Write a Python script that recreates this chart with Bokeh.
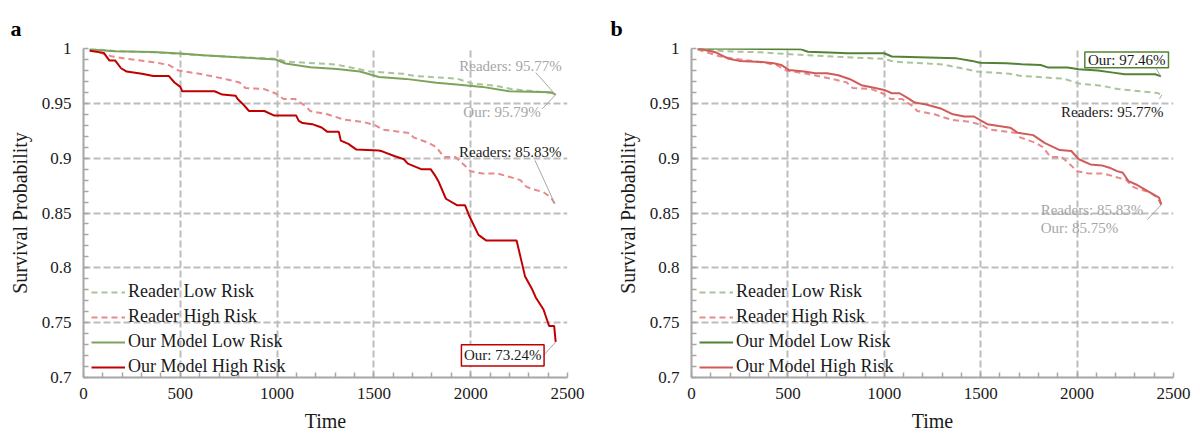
from bokeh.plotting import figure
from bokeh.models import Range1d, FixedTicker, Legend, LegendItem, Label, Title
from bokeh.layouts import row
from bokeh.embed import file_html
from bokeh.resources import INLINE

FONT = "Liberation Serif"

# ---------------- data ----------------
x_ticks = [0, 500, 1000, 1500, 2000, 2500]
y_ticks = [0.7, 0.75, 0.8, 0.85, 0.9, 0.95, 1.0]
y_tick_labels = ["0.7", "0.75", "0.8", "0.85", "0.9", "0.95", "1"]
series_names = ["Reader Low Risk", "Reader High Risk", "Our Model Low Risk", "Our Model High Risk"]

t_reader_low = [32, 170, 360, 540, 760, 1000, 1050, 1300, 1400, 1480, 1650, 1710, 1930, 2010, 2130, 2210, 2330, 2415, 2439]
s_reader_low = [1.0, 0.9975, 0.9965, 0.9945, 0.9925, 0.9905, 0.988, 0.9855, 0.982, 0.979, 0.977, 0.975, 0.9725, 0.968, 0.966, 0.963, 0.961, 0.9595, 0.9577]

t_reader_high = [32, 144, 223, 361, 440, 490, 598, 737, 806, 836, 934, 993, 1033, 1092, 1151, 1171, 1260, 1349,
                 1447, 1507, 1546, 1684, 1704, 1783, 1823, 1862, 1921, 1971, 2000, 2060, 2139, 2198, 2257, 2287,
                 2316, 2376, 2415, 2435]
s_reader_high = [0.999, 0.993, 0.9906, 0.9875, 0.985, 0.980, 0.977, 0.972, 0.969, 0.964, 0.963, 0.959, 0.954, 0.954,
                 0.947, 0.943, 0.940, 0.935, 0.933, 0.930, 0.926, 0.923, 0.919, 0.914, 0.910, 0.901, 0.901, 0.893,
                 0.888, 0.886, 0.886, 0.883, 0.880, 0.874, 0.872, 0.869, 0.864, 0.8583]

# panel a: our model
t_ours_low_a = [32, 164, 361, 500, 618, 796, 993, 1043, 1171, 1309, 1428, 1526, 1665, 1823, 1941, 2060, 2198, 2415, 2439]
s_ours_low_a = [0.999, 0.9976, 0.9967, 0.9954, 0.9939, 0.992, 0.990, 0.9863, 0.983, 0.9814, 0.979, 0.974, 0.9723,
                0.9687, 0.967, 0.965, 0.961, 0.960, 0.9579]

t_ours_high_a = [32, 105, 134, 164, 194, 223, 302, 361, 440, 470, 500, 510, 677, 717, 786, 796, 825, 855, 934, 983,
                 1098, 1112, 1132, 1181, 1230, 1260, 1319, 1329, 1368, 1408, 1526, 1546, 1605, 1655, 1675, 1744,
                 1793, 1813, 1833, 1872, 1931, 1971, 1991, 2040, 2079, 2237, 2257, 2281, 2316, 2336, 2376, 2405,
                 2431, 2439]
s_ours_high_a = [0.998, 0.996, 0.989, 0.989, 0.982, 0.979, 0.977, 0.975, 0.975, 0.969, 0.965, 0.961, 0.961, 0.958,
                 0.957, 0.954, 0.949, 0.943, 0.943, 0.939, 0.939, 0.934, 0.932, 0.931, 0.928, 0.924, 0.924, 0.916,
                 0.913, 0.908, 0.907, 0.906, 0.902, 0.899, 0.895, 0.890, 0.890, 0.885, 0.879, 0.863, 0.857, 0.857,
                 0.848, 0.830, 0.825, 0.825, 0.810, 0.792, 0.781, 0.773, 0.762, 0.747, 0.747, 0.7324]

# panel b: our model
t_ours_low_b = [32, 564, 604, 782, 802, 1000, 1039, 1178, 1376, 1455, 1495, 1633, 1712, 1811, 1851, 1950, 2009, 2108,
                2187, 2247, 2405, 2435]
s_ours_low_b = [1.0, 0.9994, 0.997, 0.996, 0.9957, 0.9957, 0.9927, 0.992, 0.991, 0.9887, 0.987, 0.9866, 0.9857, 0.985,
                0.9826, 0.9826, 0.981, 0.980, 0.978, 0.9765, 0.9765, 0.9746]

t_ours_high_b = [32, 129, 188, 247, 366, 426, 465, 505, 584, 643, 703, 762, 822, 881, 940, 1000, 1039, 1079, 1118,
                 1158, 1217, 1297, 1356, 1415, 1465, 1534, 1594, 1653, 1692, 1772, 1831, 1910, 1970, 2009, 2069,
                 2128, 2168, 2207, 2237, 2267, 2306, 2366, 2425, 2437]
s_ours_high_b = [1.0, 0.9963, 0.9909, 0.9887, 0.9878, 0.9866, 0.985, 0.9805, 0.979, 0.9775, 0.9775, 0.9756, 0.972,
                 0.9665, 0.9644, 0.9622, 0.9592, 0.9592, 0.9552, 0.9507, 0.949, 0.945, 0.940, 0.938, 0.938, 0.931,
                 0.9293, 0.9278, 0.9232, 0.921, 0.914, 0.9074, 0.9065, 0.899, 0.8943, 0.8934, 0.8913, 0.8882,
                 0.8867, 0.879, 0.876, 0.870, 0.864, 0.8575]

# annotation texts
ann_a = ["Readers: 95.77%", "Our: 95.79%", "Readers: 85.83%", "Our: 73.24%"]
ann_b = ["Our: 97.46%", "Readers: 95.77%", "Readers: 85.83%", "Our: 85.75%"]

# ---------------- styling ----------------
GRID = "#bdbdbd"
AXIS = "#a6a6a6"
C_READER_LOW = "#a9c49a"
C_READER_HIGH = "#e8898a"


def make_panel(letter, border_left, border_right, ours_low, ours_high, c_low, c_high):
    title = Title(text=letter, align="left", offset=-(border_left - 10), text_font=FONT,
                  text_font_size="22px", text_font_style="bold", text_color="black",
                  standoff=16)
    p = figure(width=600, height=434, output_backend="svg", toolbar_location=None,
               x_range=Range1d(0, 2500), y_range=Range1d(0.7, 1.0),
               min_border_left=border_left, min_border_right=border_right,
               min_border_top=48, min_border_bottom=57, title=title)
    p.outline_line_color = None
    p.background_fill_color = "white"

    x_minor = [v for v in range(100, 2500, 100) if v % 500]
    y_minor = [round(0.7 + 0.01 * i, 2) for i in range(1, 30) if i % 5]
    p.xaxis.ticker = FixedTicker(ticks=x_ticks, minor_ticks=x_minor)
    p.yaxis.ticker = FixedTicker(ticks=y_ticks, minor_ticks=y_minor)
    p.yaxis.major_label_overrides = {v: l for v, l in zip(y_ticks, y_tick_labels)}
    p.xgrid.ticker = FixedTicker(ticks=x_ticks)
    p.ygrid.ticker = FixedTicker(ticks=y_ticks)

    for g in (p.xgrid, p.ygrid):
        g.grid_line_color = GRID
        g.grid_line_dash = "7 3"
        g.grid_line_width = 2

    for ax in (p.xaxis, p.yaxis):
        ax.axis_line_color = AXIS
        ax.axis_line_width = 2
        ax.major_tick_in = 5
        ax.major_tick_out = 0
        ax.minor_tick_in = 5
        ax.minor_tick_out = 0
        ax.major_tick_line_color = AXIS
        ax.minor_tick_line_color = AXIS
        ax.major_tick_line_width = 1.5
        ax.minor_tick_line_width = 1.5
        ax.major_label_text_font = FONT
        ax.major_label_text_font_size = "17px"
        ax.major_label_text_color = "#1a1a1a"
        ax.axis_label_text_font = FONT
        ax.axis_label_text_font_size = "20px"
        ax.axis_label_text_font_style = "normal"
        ax.axis_label_text_color = "#1a1a1a"
    p.xaxis.axis_label = "Time"
    p.yaxis.axis_label = "Survival Probability"
    p.xaxis.major_label_standoff = 10
    p.xaxis.axis_label_standoff = 8
    p.yaxis.major_label_standoff = 12
    p.yaxis.axis_label_standoff = 8

    r1 = p.line(t_reader_low, s_reader_low, line_color=C_READER_LOW, line_width=2, line_dash="6 4")
    r2 = p.line(t_reader_high, s_reader_high, line_color=C_READER_HIGH, line_width=2, line_dash="6 4")
    r3 = p.line(ours_low[0], ours_low[1], line_color=c_low, line_width=2)
    r4 = p.line(ours_high[0], ours_high[1], line_color=c_high, line_width=2)

    legend = Legend(items=[LegendItem(label=n, renderers=[r]) for n, r in zip(series_names, [r1, r2, r3, r4])],
                    location=(8, 0), margin=0, padding=2, spacing=4,
                    glyph_width=34, glyph_height=20, label_height=20, label_standoff=3,
                    label_text_font=FONT, label_text_font_size="18px", label_text_color="#1a1a1a",
                    background_fill_alpha=0, border_line_color=None)
    p.add_layout(legend)
    return p


def txt(p, x, y, text, color, align="right"):
    p.add_layout(Label(x=x, y=y, text=text, text_font=FONT, text_font_size="15px", text_color=color,
                       text_align=align, text_baseline="middle"))


# ---------------- panel a ----------------
pa = make_panel("a", 83, 33, (t_ours_low_a, s_ours_low_a), (t_ours_high_a, s_ours_high_a), "#7da35c", "#c00000")
pa.segment(x0=[2336, 2370, 2332, 2379], y0=[0.978, 0.945, 0.898, 0.7206],
           x1=[t_reader_low[-1], t_ours_low_a[-1], t_reader_high[-1], t_ours_high_a[-1]],
           y1=[s_reader_low[-1], s_ours_low_a[-1], s_reader_high[-1], s_ours_high_a[-1]],
           line_color=AXIS, line_width=1)
txt(pa, 2470, 0.984, ann_a[0], "#a6a6a6")
txt(pa, 2362, 0.9417, ann_a[1], "#a6a6a6")
txt(pa, 2469, 0.906, ann_a[2], "#1a1a1a")
pa.quad(left=[1952], right=[2379], bottom=[0.7105], top=[0.7298], fill_color="white",
        line_color="#c00000", line_width=1.5)
txt(pa, 2165, 0.7205, ann_a[3], "#1a1a1a", align="center")

# ---------------- panel b ----------------
pb = make_panel("b", 91, 27, (t_ours_low_b, s_ours_low_b), (t_ours_high_b, s_ours_high_b), "#548235", "#d15b5b")
pb.segment(x0=[2410, 2427, 2364], y0=[0.9817, 0.954, 0.844],
           x1=[t_ours_low_b[-1], t_reader_low[-1], t_ours_high_b[-1]],
           y1=[s_ours_low_b[-1], s_reader_low[-1], s_ours_high_b[-1]],
           line_color=AXIS, line_width=1)
pb.quad(left=[2040], right=[2474], bottom=[0.9825], top=[0.9969], fill_color="white",
        line_color="#548235", line_width=1.5)
txt(pb, 2257, 0.9893, ann_b[0], "#1a1a1a", align="center")
txt(pb, 2448, 0.9425, ann_b[1], "#1a1a1a")
txt(pb, 1811, 0.853, ann_b[2], "#a6a6a6", align="left")
txt(pb, 1811, 0.836, ann_b[3], "#a6a6a6", align="left")

layout = row(pa, pb)
open("out.html", "w").write(file_html(layout, INLINE))
